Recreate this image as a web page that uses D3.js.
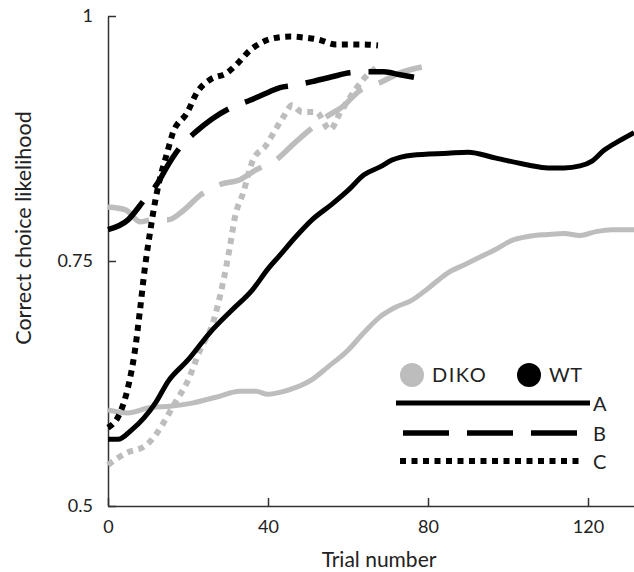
<!DOCTYPE html>
<html>
<head>
<meta charset="utf-8">
<script src="https://cdn.jsdelivr.net/npm/d3@7"></script>
<style>
  body { margin: 0; background: #fff; }
  svg { display: block; font-family: "Lato", "DejaVu Sans", sans-serif; }
</style>
</head>
<body>
<div id="chart"></div>
<script>
// [trial, likelihood]
const wtSolid = [[0,0.568],[2.5,0.568],[6,0.578],[9,0.59],[12,0.606],[15,0.627],[20,0.649],[25.5,0.677],[31,0.700],[36,0.720],[40,0.742],[43,0.756],[47,0.775],[51,0.792],[56,0.808],[60,0.822],[64,0.838],[68,0.846],[71,0.853],[76,0.858],[85,0.860],[90,0.861],[97,0.855],[105,0.848],[110,0.845],[114,0.845],[118,0.847],[121,0.852],[124,0.863],[128,0.873],[131.5,0.881]];
const dikoSolid = [[0,0.598],[5,0.595],[10,0.600],[16,0.602],[21,0.605],[27,0.611],[33,0.617],[37,0.617],[40,0.614],[43,0.616],[47,0.621],[51,0.629],[55,0.642],[60,0.659],[64,0.677],[68,0.693],[72,0.703],[76,0.710],[80,0.722],[85,0.738],[89,0.746],[93,0.754],[97,0.762],[101,0.771],[105,0.775],[110,0.777],[114,0.778],[118,0.776],[122,0.780],[126,0.782],[131.5,0.782]];
const wtDashed = [[0,0.782],[5,0.792],[9,0.812],[12.5,0.83],[15,0.848],[18,0.866],[22,0.882],[26,0.895],[30.5,0.906],[35.5,0.914],[40,0.922],[43,0.927],[46,0.929],[51,0.933],[56,0.938],[60.5,0.942],[65,0.943],[69,0.943],[73,0.940],[78.5,0.936]];
const dikoDashed = [[0,0.805],[4.5,0.802],[8,0.790],[11,0.792],[15,0.792],[19,0.802],[23,0.817],[28,0.828],[33,0.833],[37,0.843],[42,0.853],[46,0.868],[50.5,0.884],[54.5,0.897],[58.5,0.907],[63,0.924],[68.5,0.933],[73,0.942],[78.5,0.948]];
const wtDotted = [[0,0.580],[3,0.595],[5,0.621],[6.75,0.659],[8,0.700],[9.25,0.744],[10.5,0.779],[11.75,0.810],[12.75,0.83],[14.75,0.86],[16.25,0.881],[19.75,0.901],[22.25,0.922],[25.5,0.935],[29.75,0.942],[32.5,0.952],[35.5,0.965],[38,0.972],[41,0.977],[45.5,0.979],[49,0.978],[52.5,0.976],[57,0.971],[63,0.971],[67.5,0.970]];
const dikoDotted = [[0,0.542],[4.5,0.554],[9.5,0.562],[12,0.573],[14.75,0.591],[17,0.607],[19.75,0.626],[23,0.659],[26.25,0.687],[28.75,0.728],[30.5,0.765],[31.75,0.795],[33.75,0.819],[36.25,0.853],[39.5,0.868],[42,0.885],[44,0.898],[46,0.909],[48.5,0.902],[52,0.902],[55.5,0.884],[58,0.901],[60.5,0.917],[63.75,0.935],[67.25,0.948]];

const xTicks = [0, 40, 80, 120];
const yTicks = [0.5, 0.75, 1];
const groups = ["DIKO", "WT"];
const phases = ["A", "B", "C"];

const grey = "#bdbdbd", black = "#000";
const styles = { A: { dash: null, w: 5 }, B: { dash: "46,18", w: 5.5 }, C: { dash: "6,5.5", w: 6 } };

const W = 634, H = 572;
const svg = d3.select("#chart").append("svg").attr("width", W).attr("height", H);

const x = d3.scaleLinear().domain([0, 131.5]).range([108, 634]);
const y = d3.scaleLinear().domain([0.5, 1]).range([506, 16]);

// axes, ticks point inward
const xAxis = svg.append("g").attr("transform", "translate(0,506)")
    .call(d3.axisBottom(x).tickValues(xTicks).tickSize(-8).tickSizeOuter(0).tickPadding(14));
const yAxis = svg.append("g").attr("transform", "translate(108,0)")
    .call(d3.axisLeft(y).tickValues(yTicks).tickSize(-8).tickSizeOuter(0).tickPadding(15).tickFormat(d => String(d)));
[xAxis, yAxis].forEach(a => {
    a.selectAll("path, line").attr("stroke", "#333").attr("stroke-width", 1.5);
    a.selectAll("text").attr("font-size", 18).attr("fill", "#222").attr("font-family", "Lato, sans-serif");
});

svg.append("text").attr("x", 379).attr("y", 567).attr("text-anchor", "middle")
    .attr("font-size", 21).attr("fill", "#222").text("Trial number");
svg.append("text").attr("transform", "translate(31,228) rotate(-90)").attr("text-anchor", "middle")
    .attr("font-size", 21.5).attr("fill", "#222").text("Correct choice likelihood");

const line = d3.line().x(d => x(d[0])).y(d => y(d[1])).curve(d3.curveMonotoneX);

const series = [
    { data: dikoSolid, color: grey, phase: "A" },
    { data: dikoDashed, color: grey, phase: "B" },
    { data: dikoDotted, color: grey, phase: "C" },
    { data: wtSolid, color: black, phase: "A" },
    { data: wtDashed, color: black, phase: "B" },
    { data: wtDotted, color: black, phase: "C" }
];

svg.append("g").selectAll("path").data(series).join("path")
    .attr("d", d => line(d.data))
    .attr("fill", "none")
    .attr("stroke", d => d.color)
    .attr("stroke-width", d => styles[d.phase].w)
    .attr("stroke-dasharray", d => styles[d.phase].dash)
    .attr("stroke-linejoin", "round");

// legend
const legend = svg.append("g").attr("font-size", 20).attr("fill", "#222");
const gx = [412, 529];
groups.forEach((gname, i) => {
    legend.append("circle").attr("cx", gx[i]).attr("cy", 375).attr("r", 12)
        .attr("fill", i === 0 ? grey : black);
    legend.append("text").attr("x", gx[i] + 20).attr("y", 382)
        .attr("letter-spacing", i === 0 ? 1.5 : 0.5).text(gname);
});
const ly = [403, 433, 461];
phases.forEach((p, i) => {
    const x0 = p === "A" ? 396 : p === "B" ? 403 : 400;
    const x1 = p === "A" ? 590 : 583;
    legend.append("line").attr("x1", x0).attr("x2", x1).attr("y1", ly[i]).attr("y2", ly[i])
        .attr("stroke", black).attr("stroke-width", styles[p].w)
        .attr("stroke-dasharray", styles[p].dash);
    legend.append("text").attr("x", 593).attr("y", ly[i] + 8).text(p);
});
</script>
</body>
</html>
